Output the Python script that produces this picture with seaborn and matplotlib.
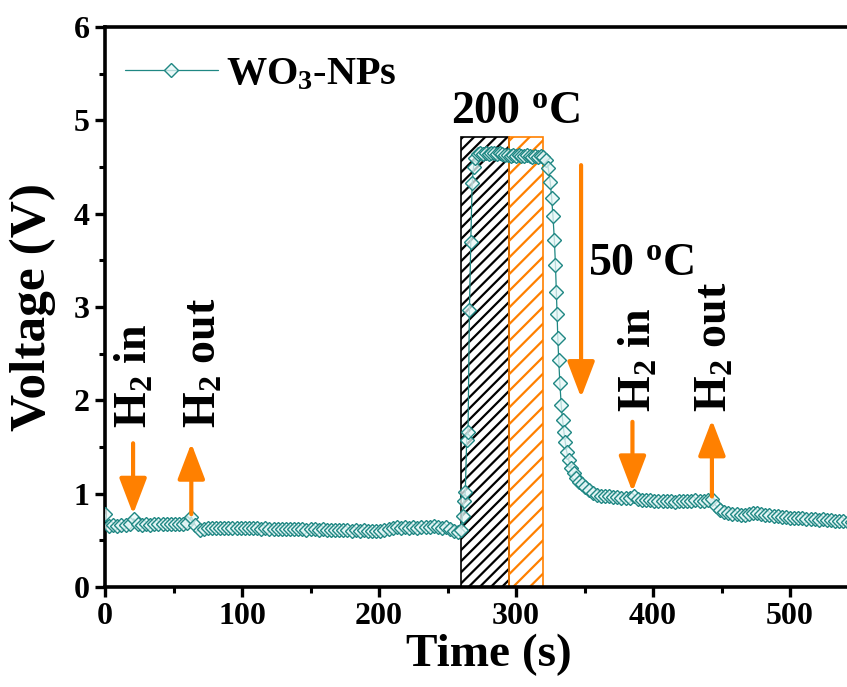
import numpy as np
import pandas as pd
import matplotlib
matplotlib.use("Agg")
import matplotlib.pyplot as plt
import seaborn as sns

# ---------------- data ----------------
time_s = [
    0, 3, 6, 9, 12, 15, 18, 21, 24, 27, 30, 33, 36, 39, 42, 45, 48, 51, 54, 57, 60,
    63, 66, 69, 72, 75, 78, 81, 84, 87, 90, 93, 96, 99, 102, 105, 108, 111, 114, 117,
    120, 123, 126, 129, 132, 135, 138, 141, 144, 147, 150, 153, 156, 159, 162, 165,
    168, 171, 174, 177, 180, 183, 186, 189, 192, 195, 198, 201, 204, 207, 210, 213,
    216, 219, 222, 225, 228, 231, 234, 237, 240, 243, 246, 249, 252, 255, 258,
    260, 261, 262, 263, 264, 265, 266, 267, 268, 269, 270, 272,
    274, 276, 278, 280, 282, 284, 286, 288, 290, 292, 294, 296, 298, 300, 302, 304,
    306, 308, 310, 312, 314, 316, 318, 320, 322,
    323.5, 325, 326, 327, 328, 328.8, 329.5, 330, 330.5, 331.2, 332, 333, 334, 335,
    336, 337, 338.5, 340, 342, 344, 346, 348, 350, 353, 356, 359, 362, 365, 368, 371,
    374, 377, 380, 383, 386, 389, 392, 395, 398, 401, 404, 407, 410, 413, 416, 419,
    422, 425, 428, 431, 434, 437, 440, 443, 446, 449, 452, 455, 458, 461, 464, 467,
    470, 473, 476, 479, 482, 485, 488, 491, 494, 497, 500, 503, 506, 509, 512, 515,
    518, 521, 524, 527, 530, 533, 536, 539, 542, 545, 548,
]
voltage_v = [
    0.78, 0.65, 0.66, 0.65, 0.66, 0.66, 0.67, 0.73, 0.67, 0.66, 0.67, 0.66, 0.67, 0.67,
    0.67, 0.68, 0.67, 0.68, 0.68, 0.68, 0.69,
    0.75, 0.66, 0.61, 0.62, 0.63, 0.63, 0.63, 0.63, 0.63, 0.63, 0.63, 0.63, 0.63, 0.63,
    0.63, 0.63, 0.63, 0.62, 0.63,
    0.62, 0.62, 0.62, 0.62, 0.62, 0.62, 0.62, 0.62, 0.62, 0.61, 0.62, 0.62, 0.61, 0.62,
    0.61, 0.61,
    0.61, 0.61, 0.61, 0.61, 0.60, 0.61, 0.60, 0.61, 0.60, 0.60, 0.60, 0.60, 0.61, 0.62,
    0.63, 0.64,
    0.63, 0.64, 0.63, 0.64, 0.63, 0.64, 0.64, 0.64, 0.65, 0.64, 0.63, 0.64, 0.62, 0.60, 0.59,
    0.61, 0.76, 0.92, 1.02, 1.58, 1.66, 2.97, 3.70, 4.33, 4.50, 4.60, 4.64,
    4.65, 4.64, 4.65, 4.64, 4.65, 4.65, 4.64, 4.65, 4.64, 4.63, 4.63, 4.62, 4.63, 4.62,
    4.63, 4.62, 4.62, 4.63, 4.62, 4.61, 4.62, 4.61, 4.62, 4.61, 4.58,
    4.49, 4.34, 4.17, 3.97, 3.72, 3.45, 3.16, 2.92, 2.67, 2.43, 2.19, 1.95, 1.79, 1.66,
    1.55, 1.45, 1.36, 1.28, 1.22, 1.17, 1.13, 1.10, 1.07, 1.04, 1.01, 0.99, 0.98, 0.97,
    0.97, 0.96, 0.96, 0.95, 0.95, 0.95, 0.97, 0.94, 0.93, 0.93, 0.93, 0.92, 0.92, 0.92,
    0.92, 0.92, 0.91, 0.92, 0.92, 0.92, 0.92, 0.93, 0.92, 0.92, 0.93, 0.94, 0.87, 0.82,
    0.80, 0.79, 0.78, 0.78, 0.77, 0.77, 0.78, 0.79, 0.79, 0.78, 0.77, 0.77, 0.76, 0.76,
    0.75, 0.75, 0.74, 0.74, 0.74, 0.74, 0.73, 0.73, 0.73, 0.72, 0.73, 0.72, 0.72, 0.71,
    0.71, 0.71, 0.70, 0.70, 0.70,
]
series_label = "WO$_\\mathregular{3}$-NPs"

# heating windows (start, width, colour, hatch)
zone_start = [260, 295]
zone_width = [35, 25]
zone_height = [4.82, 4.82]
zone_colors = ["black", "#FF8000"]
zone_hatch = ["///", "//"]

# gas in/out arrows: (x, y_from, y_to)
arrow_x = [20.5, 63, 385, 443]
arrow_from = [1.54, 0.78, 1.77, 0.97]
arrow_to = [0.78, 1.54, 1.02, 1.79]
gas_labels = ["H$_\\mathregular{2}$ in", "H$_\\mathregular{2}$ out",
              "H$_\\mathregular{2}$ in", "H$_\\mathregular{2}$ out"]
gas_label_x = [22, 73, 390.5, 445.5]
gas_label_y = [1.70, 1.70, 1.87, 1.87]

x_ticks = [0, 100, 200, 300, 400, 500]
y_ticks = [0, 1, 2, 3, 4, 5, 6]

# ---------------- style ----------------
sns.set_theme(style="ticks")
plt.rcParams["font.family"] = ["Liberation Serif", "DejaVu Serif"]
plt.rcParams["font.weight"] = "bold"
plt.rcParams["mathtext.default"] = "regular"
plt.rcParams["hatch.linewidth"] = 1.6
plt.rcParams["text.color"] = "black"
plt.rcParams["axes.labelcolor"] = "black"
plt.rcParams["xtick.color"] = "black"
plt.rcParams["ytick.color"] = "black"
plt.rcParams["xtick.labelcolor"] = "black"
plt.rcParams["ytick.labelcolor"] = "black"

teal = "#1f8783"
orange = "#FF8000"

fig = plt.figure(figsize=(8.47, 6.87), dpi=100)
W, H = 847, 687
px_per_unit_x = 1.37
xmax = 560
ax = fig.add_axes([105 / W, 100 / H, xmax * px_per_unit_x / W, 560 / H])

# hatched heating zones
for xs, w, h, c, ht in zip(zone_start, zone_width, zone_height, zone_colors, zone_hatch):
    ax.bar(xs, h, width=w, align="edge", fill=False, hatch=ht,
           edgecolor=c, linewidth=1.2, zorder=1)

df = pd.DataFrame({"Time (s)": time_s, "Voltage (V)": voltage_v})
sns.lineplot(data=df, x="Time (s)", y="Voltage (V)", ax=ax, sort=False,
             color=teal, linewidth=0.9, marker="D", markersize=7.5,
             markerfacecolor=(0.90, 0.97, 0.97, 0.75), markeredgecolor=teal,
             markeredgewidth=1.0, label=series_label, zorder=3)

# arrows
astyle = "-|>,head_length=1.1,head_width=0.42"
for x, y0, y1 in zip(arrow_x, arrow_from, arrow_to):
    ax.annotate("", xy=(x, y1), xytext=(x, y0),
                arrowprops=dict(arrowstyle=astyle, color=orange, lw=3,
                                mutation_scale=20, shrinkA=0, shrinkB=0), zorder=4)
ax.annotate("", xy=(347.5, 2.03), xytext=(347.5, 4.52),
            arrowprops=dict(arrowstyle=astyle, color=orange, lw=3,
                            mutation_scale=20, shrinkA=0, shrinkB=0), zorder=4)

for x, y, t in zip(gas_label_x, gas_label_y, gas_labels):
    ax.text(x, y, t, rotation=90, ha="center", va="bottom",
            fontsize=33, fontweight="bold", color="black")

ax.text(300, 4.97, "200 $^\\mathregular{o}$C", ha="center", va="baseline",
        fontsize=33, fontweight="bold")
ax.text(352.5, 3.34, "50 $^\\mathregular{o}$C", ha="left", va="baseline",
        fontsize=33, fontweight="bold")

# axes
ax.set_xlim(0, xmax)
ax.set_ylim(0, 6)
ax.set_xticks(x_ticks)
ax.set_yticks(y_ticks)
ax.set_xticks([50, 150, 250, 350, 450, 550], minor=True)
ax.set_yticks([0.5, 1.5, 2.5, 3.5, 4.5, 5.5], minor=True)
ax.tick_params(axis="both", which="major", direction="out", length=7, width=2.4,
               labelsize=23, pad=4, top=False, right=False, colors="black")
ax.tick_params(axis="both", which="minor", direction="out", length=4.5, width=2.2,
               top=False, right=False, colors="black")
for lab in ax.get_xticklabels() + ax.get_yticklabels():
    lab.set_fontweight("bold")
    lab.set_color("black")
for sp in ax.spines.values():
    sp.set_linewidth(2.6)
    sp.set_color("black")
    sp.set_visible(True)

ax.set_xlabel("Time (s)", fontsize=34, fontweight="bold", labelpad=2, color="black")
ax.set_ylabel("Voltage (V)", fontsize=37, fontweight="bold", labelpad=13, color="black")

leg = ax.legend(loc="center left",
                bbox_to_anchor=((125 - 105) / (xmax * px_per_unit_x), (587 - 75) / 560),
                frameon=False, borderaxespad=0, borderpad=0, handlelength=2.3,
                handletextpad=0.2,
                prop={"family": "Liberation Serif", "weight": "bold", "size": 29})
for t in leg.get_texts():
    t.set_color("black")

fig.savefig("out.png", dpi=100)
